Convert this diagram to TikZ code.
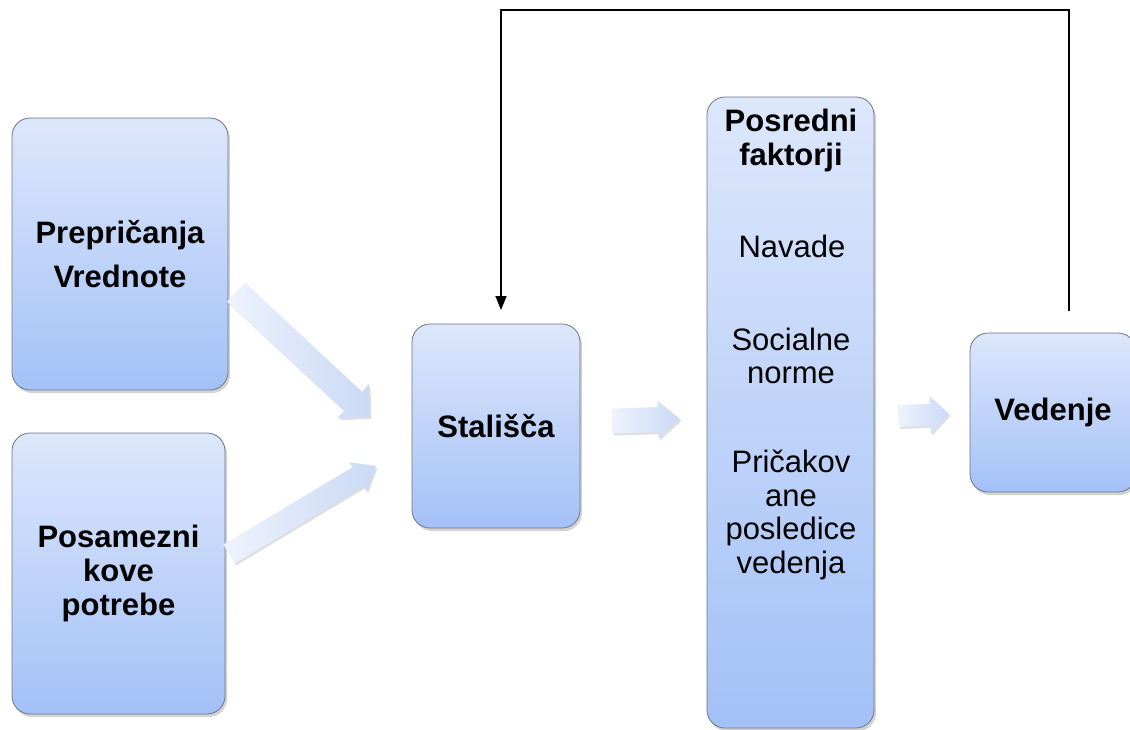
\documentclass[tikz,border=0pt]{standalone}
\usepackage{fontspec}
\setmainfont{Liberation Sans}
\usetikzlibrary{calc,shadows,arrows.meta}
\definecolor{boxtop}{HTML}{DDE7FB}
\definecolor{boxbot}{HTML}{A3C1F7}
\definecolor{boxline}{HTML}{6E7584}
\definecolor{arrtop}{HTML}{EEF3FD}
\definecolor{arrbot}{HTML}{CAD9F5}
\tikzset{
  box/.style={draw=boxline, line width=0.8pt, rounded corners=18pt,
    top color=boxtop, bottom color=boxbot, inner sep=0pt, align=center,
    font=\fontsize{31}{34}\selectfont\bfseries,
    drop shadow={opacity=0.35, shadow xshift=2pt, shadow yshift=-3pt}},
  plaintext/.style={inner sep=0pt, align=center, font=\fontsize{31}{33.5}\selectfont},
  boldtext/.style={plaintext, font=\fontsize{31}{34}\selectfont\bfseries},
  fatarr/.style={left color=arrtop, right color=arrbot,
    drop shadow={opacity=0.25, shadow xshift=1.5pt, shadow yshift=-2pt}},
  fb/.style={line width=1.6pt, -{Triangle[length=14pt,width=11pt]}}
}
% #1 prefix, #2 start, #3 tip, #4 shaft half width, #5 head half width, #6 head length
\newcommand{\fatarrow}[6]{%
  \coordinate (#1h) at ($(#3)!#6!(#2)$);
  \path[fatarr] ($(#2)!#4!90:(#3)$) -- ($(#1h)!#4!90:(#3)$) -- ($(#1h)!#5!90:(#3)$)
    -- (#3) -- ($(#1h)!#5!-90:(#3)$) -- ($(#1h)!#4!-90:(#3)$) -- ($(#2)!#4!-90:(#3)$) -- cycle;
}
\begin{document}
\begin{tikzpicture}[x=1pt,y=-1pt]
\useasboundingbox (0,0) rectangle (1130,729);

% boxes
\node[box, minimum width=216pt, minimum height=272pt] (A) at (120,254) {Prepričanja\\[10pt]Vrednote};
\node[box, minimum width=213pt, minimum height=281pt] (B) at (118.5,573.5) {Posamezni\\kove\\potrebe};
\node[box, minimum width=168pt, minimum height=204pt] (C) at (496,426) {Stališča};
\node[box, minimum width=167pt, minimum height=631pt] (D) at (790.5,412.5) {};
\node[box, minimum width=166pt, minimum height=159pt] (E) at (1053,412.5) {Vedenje};

% texts inside D
\node[boldtext] (d1) at (791,140) {Posredni\\faktorji};
\node[plaintext] (d2) at (792,246) {Navade};
\node[plaintext] (d3) at (791,356) {Socialne\\norme};
\node[plaintext] (d4) at (791,515) {Pričakov\\ane\\posledice\\vedenja};

% block arrows
\coordinate (a1s) at (236,292); \coordinate (a1e) at (370,417);
\coordinate (a2s) at (229,554); \coordinate (a2e) at (376,466);
\coordinate (a3s) at (612,421); \coordinate (a3e) at (680,419);
\coordinate (a4s) at (898,416); \coordinate (a4e) at (949,414);
\fatarrow{a1}{a1s}{a1e}{13pt}{23pt}{23pt}
\fatarrow{a2}{a2s}{a2e}{11pt}{17pt}{21pt}
\fatarrow{a3}{a3s}{a3e}{12.5pt}{19pt}{22pt}
\fatarrow{a4}{a4s}{a4e}{11pt}{19pt}{19pt}

% feedback connector
\coordinate (fbs) at (1069,311);
\coordinate (fbtop) at (1069,10);
\coordinate (fbe) at (501,310);
\draw[fb] (fbs) -- (fbtop) -| (fbe);
\end{tikzpicture}
\end{document}
